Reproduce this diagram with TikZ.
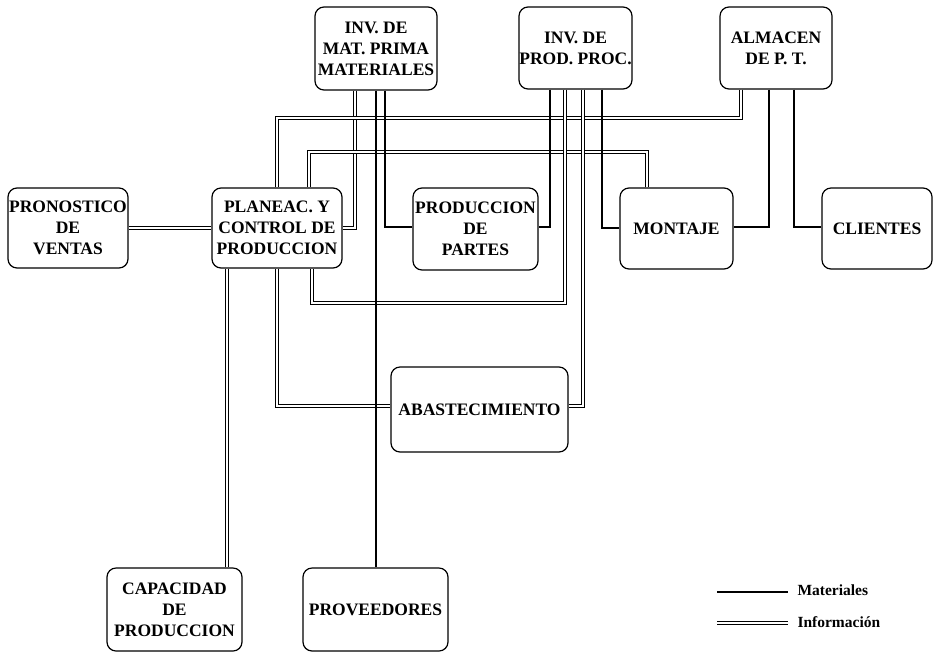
\documentclass[tikz,border=0pt]{standalone}
\usepackage{fontspec}
\setmainfont{Liberation Serif}
\begin{document}
\begin{tikzpicture}[x=1pt,y=-1pt,
  box/.style={draw, rounded corners=9pt, line width=1.2pt, align=center, inner sep=0pt,
    font=\fontsize{17.5}{21}\selectfont\bfseries},
  mat/.style={line width=1.2pt},
  info/.style={double, double distance=2.2pt, line width=0.9pt},
  lbl/.style={anchor=west, font=\fontsize{15.5}{18}\selectfont\bfseries}]
\useasboundingbox (0,0) rectangle (933,654);
% boxes
\node[box, minimum width=122pt, minimum height=83pt] (invmat) at (376,48.5) {INV. DE\\MAT. PRIMA\\MATERIALES};
\node[box, minimum width=113pt, minimum height=82pt] (invproc) at (575.5,48) {INV. DE\\PROD. PROC.};
\node[box, minimum width=112pt, minimum height=82pt] (almacen) at (776,48) {ALMACEN\\DE P. T.};
\node[box, minimum width=120pt, minimum height=80pt] (pron) at (68,228) {PRONOSTICO\\DE\\VENTAS};
\node[box, minimum width=130pt, minimum height=80pt] (plan) at (277,228) {PLANEAC. Y\\CONTROL DE\\PRODUCCION};
\node[box, minimum width=125pt, minimum height=82pt] (partes) at (475.5,229) {PRODUCCION\\DE\\PARTES};
\node[box, minimum width=113pt, minimum height=81pt] (montaje) at (676.5,228.5) {MONTAJE};
\node[box, minimum width=110pt, minimum height=81pt] (clientes) at (877,228.5) {CLIENTES};
\node[box, minimum width=177pt, minimum height=85pt] (abast) at (479.5,409.5) {ABASTECIMIENTO};
\node[box, minimum width=135pt, minimum height=83pt] (capac) at (174.5,609.5) {CAPACIDAD\\DE\\PRODUCCION};
\node[box, minimum width=145pt, minimum height=83pt] (prov) at (375.5,609.5) {PROVEEDORES};
% helper coordinates
\coordinate (c227) at (227,0);
\coordinate (c355) at (355,228);
\coordinate (c376) at (376,0);
\coordinate (c385) at (385,227);
\coordinate (c550) at (550,227);
\coordinate (c602) at (602,228);
\coordinate (c769) at (769,227);
\coordinate (c794) at (794,227);
\coordinate (k1) at (565,303);
\coordinate (k2) at (312,303);
\coordinate (k3) at (741,118);
\coordinate (k4) at (277,118);
\coordinate (k5) at (647,152);
\coordinate (k6) at (309,152);
\coordinate (k7) at (277,406);
\coordinate (k8) at (583,406);
% information (double) connectors
\draw[info] (pron.east) -- (plan.west);
\draw[info] (invmat.south -| c355) -- (c355) -- (plan.east |- c355);
\draw[info] (almacen.south -| k3) -- (k3) -- (k4) -- (plan.north -| k4);
\draw[info] (montaje.north -| k5) -- (k5) -- (k6) -- (plan.north -| k6);
\draw[info] (invproc.south -| k1) -- (k1) -- (k2) -- (plan.south -| k2);
\draw[info] (invproc.south -| k8) -- (k8) -- (abast.east |- k8);
\draw[info] (plan.south -| k7) -- (k7) -- (abast.west |- k7);
\draw[info] (plan.south -| c227) -- (capac.north -| c227);
% material (single) connectors
\draw[mat] (invmat.south -| c376) -- (prov.north -| c376);
\draw[mat] (invmat.south -| c385) -- (c385) -- (partes.west |- c385);
\draw[mat] (invproc.south -| c550) -- (c550) -- (partes.east |- c550);
\draw[mat] (invproc.south -| c602) -- (c602) -- (montaje.west |- c602);
\draw[mat] (almacen.south -| c769) -- (c769) -- (montaje.east |- c769);
\draw[mat] (almacen.south -| c794) -- (c794) -- (clientes.west |- c794);
% legend
\coordinate (l1) at (717,592);
\coordinate (l2) at (788,592);
\coordinate (l3) at (717,623);
\coordinate (l4) at (788,623);
\draw[mat] (l1) -- (l2);
\draw[info] (l3) -- (l4);
\node[lbl] (lmat) at (794,590) {Materiales};
\node[lbl] (linf) at (794,622) {Información};
\end{tikzpicture}
\end{document}
